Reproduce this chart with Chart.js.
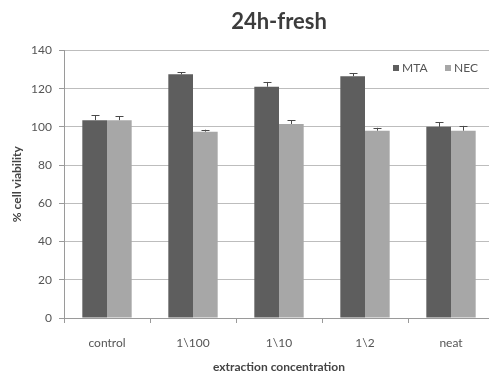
<!DOCTYPE html>
<html>
<head>
<meta charset="utf-8">
<script src="https://cdn.jsdelivr.net/npm/chart.js@4/dist/chart.umd.min.js"></script>
<style>
  html, body { margin: 0; padding: 0; background: #fff; overflow: hidden; width: 489px; height: 376px; }
  canvas { display: block; }
</style>
</head>
<body>
<canvas id="c" width="494" height="376"></canvas>
<script>
// Cell viability after 24 h with fresh extracts
const categories = ["control", "1\\100", "1\\10", "1\\2", "neat"];
const mtaValues = [103.5, 127.5, 121, 126.5, 100];
const mtaErrors = [2.5, 1, 2.5, 1.5, 2.5];
const necValues = [103.5, 97.5, 101.5, 98, 98];
const necErrors = [2, 1, 2, 1.5, 2.5];
const yTicks = [0, 20, 40, 60, 80, 100, 120, 140];

const FONT = "Lato, 'Open Sans', sans-serif";
const MTA_COLOR = "#5e5e5e";
const NEC_COLOR = "#a7a7a7";

// Upward error bars with a small cap on top of every bar
const errorBars = {
  id: "errorBars",
  afterDatasetsDraw(chart) {
    const ctx = chart.ctx;
    const y = chart.scales.y;
    ctx.save();
    ctx.strokeStyle = "#4a4a4a";
    ctx.lineWidth = 1;
    chart.data.datasets.forEach((ds, di) => {
      const meta = chart.getDatasetMeta(di);
      meta.data.forEach((bar, i) => {
        const top = y.getPixelForValue(ds.data[i] + ds.errors[i]);
        const x = Math.round(bar.x) + 0.5;
        ctx.beginPath();
        ctx.moveTo(x, bar.y);
        ctx.lineTo(x, top);
        ctx.moveTo(x - 4, Math.round(top) + 0.5);
        ctx.lineTo(x + 4, Math.round(top) + 0.5);
        ctx.stroke();
      });
    });
    ctx.restore();
  }
};

// Legend drawn inside the plot, top right
const innerLegend = {
  id: "innerLegend",
  afterDraw(chart) {
    const ctx = chart.ctx;
    const items = [{ x: 393, ds: 0 }, { x: 445, ds: 1 }];
    ctx.save();
    ctx.font = "12px " + FONT;
    ctx.textBaseline = "middle";
    ctx.textAlign = "left";
    items.forEach(it => {
      const ds = chart.data.datasets[it.ds];
      ctx.fillStyle = ds.backgroundColor;
      ctx.fillRect(it.x, 65, 6, 6);
      ctx.fillStyle = "#555";
      ctx.fillText(ds.label, it.x + 9, 68.5);
    });
    ctx.restore();
  }
};

new Chart(document.getElementById("c"), {
  type: "bar",
  data: {
    labels: categories,
    datasets: [
      { label: "MTA", data: mtaValues, errors: mtaErrors, backgroundColor: MTA_COLOR,
        categoryPercentage: 0.574, barPercentage: 1 },
      { label: "NEC", data: necValues, errors: necErrors, backgroundColor: NEC_COLOR,
        categoryPercentage: 0.574, barPercentage: 1 }
    ]
  },
  options: {
    responsive: false,
    animation: false,
    layout: { padding: 0 },
    plugins: {
      legend: { display: false },
      tooltip: { enabled: false },
      title: {
        display: true,
        text: "24h-fresh",
        fullSize: false,
        color: "#3c3c3c",
        font: { family: FONT, size: 22, weight: "bold", lineHeight: 1.2 },
        padding: { top: 9, bottom: 15 }
      }
    },
    scales: {
      x: {
        offset: true,
        grid: { display: true, drawOnChartArea: false, drawTicks: true, tickLength: 5,
                offset: true, color: "#9a9a9a" },
        border: { display: true, color: "#9a9a9a" },
        ticks: { color: "#555", padding: 13, font: { family: FONT, size: 12 } },
        title: { display: true, text: "extraction concentration", color: "#444",
                 font: { family: FONT, size: 12, weight: "bold", lineHeight: 1.2 },
                 padding: { top: 8, bottom: 2 } },
        afterFit(scale) { scale.height = 58; }
      },
      y: {
        min: 0, max: 140,
        afterBuildTicks(scale) { scale.ticks = yTicks.map(v => ({ value: v })); },
        grid: { color: "#bdbdbd", lineWidth: 1, tickLength: 5, tickColor: "#9a9a9a" },
        border: { display: true, color: "#9a9a9a" },
        ticks: { color: "#555", padding: 7, font: { family: FONT, size: 12 } },
        title: { display: true, text: "% cell viability", color: "#444",
                 font: { family: FONT, size: 12, weight: "bold", lineHeight: 1.2 },
                 padding: { top: 10, bottom: 4 } },
        afterFit(scale) { scale.width = 64; }
      }
    }
  },
  plugins: [errorBars, innerLegend]
});
</script>
</body>
</html>
